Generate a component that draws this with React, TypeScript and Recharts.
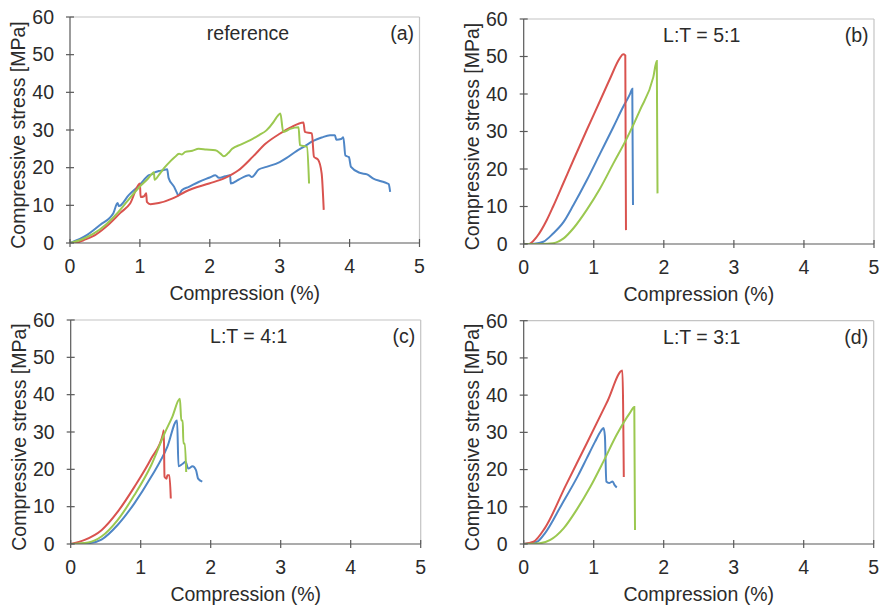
import { LineChart, Line, XAxis, YAxis, ReferenceLine, Label } from "recharts";

// [compression %, stress MPa]
const A_BLUE: [number, number][] = [
  [0, 0], [0.24, 2.1], [0.43, 4.8], [0.62, 7.9], [0.68, 10.6], [0.7, 9.8], [0.84, 12.7], [0.99, 15.3],
  [1.13, 18.0], [1.18, 18.3], [1.22, 18.8], [1.27, 19.1], [1.33, 19.3], [1.39, 19.6], [1.41, 17.3],
  [1.49, 14.9], [1.53, 13.3], [1.55, 12.6], [1.6, 14.0], [1.7, 14.9], [1.84, 16.2], [2.0, 17.4],
  [2.08, 18.0], [2.13, 17.3], [2.22, 17.7], [2.29, 18.0], [2.3, 15.8], [2.41, 16.8], [2.56, 18.0],
  [2.6, 17.5], [2.7, 19.5], [2.81, 20.2], [3.0, 21.5], [3.1, 22.6], [3.24, 24.4], [3.35, 25.6],
  [3.48, 27.1], [3.6, 28.0], [3.72, 28.6], [3.79, 28.6], [3.81, 27.4], [3.88, 27.6], [3.91, 28.1],
  [3.94, 23.2], [3.99, 22.8], [4.02, 20.2], [4.15, 18.6], [4.25, 18.2], [4.34, 17.1], [4.45, 16.4],
  [4.53, 15.9], [4.56, 15.6], [4.58, 13.6],
];
const A_RED: [number, number][] = [
  [0, 0], [0.07, 0], [0.2, 0.8], [0.33, 1.8], [0.52, 4.4], [0.72, 8.0], [0.86, 10.5], [1.0, 15.8],
  [1.01, 12.2], [1.06, 12.4], [1.09, 13.2], [1.1, 10.9], [1.15, 10.3], [1.27, 10.6], [1.46, 11.8],
  [1.53, 12.4], [1.65, 13.6], [1.75, 14.4], [1.99, 15.8], [2.22, 17.3], [2.41, 19.3], [2.62, 23.0],
  [2.8, 26.4], [3.0, 29.0], [3.15, 30.6], [3.34, 32.0], [3.36, 29.5], [3.46, 29.1], [3.49, 22.9],
  [3.55, 22.1], [3.6, 18.5], [3.63, 8.8],
];
const A_GREEN: [number, number][] = [
  [0, 0], [0.15, 0.8], [0.33, 2.4], [0.52, 5.0], [0.69, 8.2], [0.75, 9.5], [0.85, 11.8], [1.0, 15.0],
  [1.1, 16.8], [1.18, 18.5], [1.2, 18.8], [1.21, 16.8], [1.27, 18.0], [1.32, 19.3], [1.4, 21.0],
  [1.5, 22.8], [1.56, 23.7], [1.6, 23.5], [1.65, 24.2], [1.75, 24.5], [1.84, 25.0], [1.95, 24.8],
  [2.08, 24.6], [2.15, 23.8], [2.2, 23.0], [2.26, 23.8], [2.32, 25.0], [2.45, 26.2], [2.58, 27.3],
  [2.7, 28.6], [2.81, 29.9], [2.91, 32.1], [2.95, 33.2], [3.01, 34.4], [3.05, 29.5], [3.15, 30.3],
  [3.27, 30.7], [3.29, 26.0], [3.39, 25.5], [3.42, 15.8],
];

const B_BLUE: [number, number][] = [
  [0, 0], [0.15, 0.1], [0.28, 0.6], [0.42, 2.8], [0.57, 5.9], [0.71, 10.4], [0.9, 17.0], [1.09, 24.1],
  [1.28, 31.2], [1.42, 36.6], [1.52, 40.1], [1.55, 41.4], [1.56, 10.4],
];
const B_RED: [number, number][] = [
  [0, 0], [0.07, 0], [0.19, 2.0], [0.33, 6.4], [0.42, 10.0], [0.57, 16.4], [0.71, 22.4], [0.9, 30.4],
  [1.09, 38.2], [1.23, 44.0], [1.37, 49.5], [1.42, 50.6], [1.45, 50.3], [1.46, 3.7],
];
const B_GREEN: [number, number][] = [
  [0, 0], [0.25, 0], [0.42, 0.2], [0.57, 1.5], [0.71, 4.2], [0.9, 9.1], [1.09, 14.8], [1.28, 21.5],
  [1.47, 28.1], [1.66, 35.7], [1.85, 44.5], [1.9, 48.8], [1.91, 13.5],
];

const C_BLUE: [number, number][] = [
  [0, 0], [0.25, 0.2], [0.44, 1.2], [0.67, 5.1], [0.91, 10.9], [1.15, 18.0], [1.38, 26.0], [1.52, 33.1],
  [1.54, 20.8], [1.6, 21.5], [1.64, 22.0], [1.68, 20.2], [1.74, 20.8], [1.79, 19.8], [1.82, 17.5],
  [1.88, 16.7],
];
const C_RED: [number, number][] = [
  [0, 0], [0.2, 1.1], [0.44, 3.7], [0.67, 8.6], [0.91, 15.3], [1.15, 22.9], [1.32, 29.6], [1.33, 30.5],
  [1.34, 18.0], [1.37, 17.5], [1.38, 18.4], [1.41, 18.4], [1.43, 12.2],
];
const C_GREEN: [number, number][] = [
  [0, 0], [0.25, 0.4], [0.44, 2.0], [0.67, 6.4], [0.91, 13.1], [1.15, 21.1], [1.34, 29.6], [1.45, 34.0],
  [1.56, 38.9], [1.58, 33.1], [1.6, 33.1], [1.61, 26.9], [1.63, 26.9], [1.65, 19.3],
];

const D_BLUE: [number, number][] = [
  [0, 0], [0.19, 0.6], [0.3, 2.8], [0.54, 10.5], [0.78, 18.5], [0.9, 23.0], [1.02, 27.5], [1.1, 30.3],
  [1.14, 31.2], [1.16, 29.0], [1.18, 16.8], [1.22, 16.4], [1.27, 16.8], [1.3, 15.8], [1.33, 15.2],
];
const D_RED: [number, number][] = [
  [0, 0], [0.14, 0.6], [0.3, 4.2], [0.6, 15.7], [0.9, 27.0], [1.2, 38.5], [1.41, 46.6], [1.43, 18.0],
];
const D_GREEN: [number, number][] = [
  [0, 0], [0.23, 0.2], [0.38, 1.1], [0.57, 4.2], [0.76, 9.3], [0.95, 15.3], [1.14, 22.2], [1.33, 29.4],
  [1.52, 35.3], [1.58, 36.8], [1.59, 3.75],
];

const X_TICKS = [0, 1, 2, 3, 4, 5];
const Y_TICKS = [0, 10, 20, 30, 40, 50, 60];
const PANEL_TITLES = ["reference", "L:T = 5:1", "L:T = 4:1", "L:T = 3:1"];
const PANEL_TAGS = ["(a)", "(b)", "(c)", "(d)"];

const BLUE = "#4f86c6";
const RED = "#d9534f";
const GREEN = "#9bc850";
const AXIS = "#595959";
const FRAME = "#c4c4c4";
const TEXT = "#2b2b2b";
const FONT = "'Liberation Sans', Arial, sans-serif";
const FS = 19.5;

const toRows = (pts: [number, number][]) => pts.map(([x, y]) => ({ x, y }));

// pl/pr/pt/pb: plot edges in page pixels; extra: room below the chart for the axis title
type Box = { left: number; top: number; w: number; h: number; pl: number; pr: number; pt: number; pb: number; extra: number };

const PANELS: { box: Box; series: [number, number][][] }[] = [
  { box: { left: 0, top: 0, w: 441, h: 300, pl: 70, pr: 419.5, pt: 17, pb: 243, extra: 12 }, series: [A_BLUE, A_RED, A_GREEN] },
  { box: { left: 441, top: 0, w: 441, h: 300, pl: 523.7, pr: 874, pt: 19, pb: 244, extra: 12 }, series: [B_BLUE, B_RED, B_GREEN] },
  { box: { left: 0, top: 300, w: 441, h: 305, pl: 70.7, pr: 420.7, pt: 320, pb: 544, extra: 0 }, series: [C_BLUE, C_RED, C_GREEN] },
  { box: { left: 441, top: 300, w: 441, h: 305, pl: 523.7, pr: 873.7, pt: 320.7, pb: 544, extra: 0 }, series: [D_BLUE, D_RED, D_GREEN] },
];

// ticks cross the axis line (4px each side)
const YTick = (props: any) => {
  const { x, y, payload } = props;
  return (
    <g>
      <line x1={x + 12} x2={x + 20} y1={y} y2={y} stroke={AXIS} strokeWidth={1.2} />
      <text x={x} y={y} dy="0.35em" textAnchor="end" fontSize={FS} fill={TEXT} fontFamily={FONT}>
        {payload.value}
      </text>
    </g>
  );
};

const XTick = (props: any) => {
  const { x, y, payload } = props;
  return (
    <g>
      <line x1={x} x2={x} y1={y - 34} y2={y - 26} stroke={AXIS} strokeWidth={1.2} />
      <text x={x} y={y} textAnchor="middle" fontSize={FS} fill={TEXT} fontFamily={FONT}>
        {payload.value}
      </text>
    </g>
  );
};

function Panel({ box, series }: { box: Box; series: [number, number][][] }) {
  const plotL = box.pl - box.left;
  const plotR = box.pr - box.left;
  const plotT = box.pt - box.top;
  const plotB = box.pb - box.top;
  const colors = [BLUE, RED, GREEN];
  return (
    <div style={{ position: "absolute", left: box.left, top: box.top }}>
      <LineChart
        width={box.w}
        height={box.h + box.extra}
        margin={{ top: plotT, right: box.w - plotR, bottom: box.extra, left: 0 }}
      >
        <XAxis
          type="number"
          dataKey="x"
          domain={[0, 5]}
          ticks={X_TICKS}
          height={box.h - plotB}
          tickSize={5}
          tickMargin={25}
          tickLine={false}
          tick={<XTick />}
          axisLine={{ stroke: AXIS, strokeWidth: 1.2 }}
          allowDataOverflow
        >
          <Label
            content={() => (
              <text
                x={(plotL + plotR) / 2}
                y={plotB + 50}
                dominantBaseline="central"
                textAnchor="middle"
                fontSize={FS}
                fill={TEXT}
                fontFamily={FONT}
              >
                Compression (%)
              </text>
            )}
          />
        </XAxis>
        <YAxis
          type="number"
          domain={[0, 60]}
          ticks={Y_TICKS}
          width={plotL}
          tickSize={5}
          tickMargin={11}
          tickLine={false}
          tick={<YTick />}
          axisLine={{ stroke: AXIS, strokeWidth: 1.2 }}
          allowDataOverflow
        >
          <Label
            content={() => {
              const cx = plotL - 52;
              const cy = (plotT + plotB) / 2 + 5;
              return (
                <text
                  x={cx}
                  y={cy}
                  transform={`rotate(-90 ${cx} ${cy})`}
                  dominantBaseline="central"
                  textAnchor="middle"
                  fontSize={FS}
                  fill={TEXT}
                  fontFamily={FONT}
                >
                  Compressive stress [MPa]
                </text>
              );
            }}
          />
        </YAxis>
        <ReferenceLine y={60} stroke={FRAME} strokeWidth={1.2} />
        <ReferenceLine x={5} stroke={FRAME} strokeWidth={1.2} />
        {series.map((pts, i) => (
          <Line
            key={i}
            data={toRows(pts)}
            dataKey="y"
            type="monotone"
            stroke={colors[i]}
            strokeWidth={2}
            dot={false}
            activeDot={false}
            isAnimationActive={false}
          />
        ))}
      </LineChart>
    </div>
  );
}

export default function App() {
  return (
    <div
      style={{
        position: "absolute",
        left: 0,
        top: 0,
        width: 882,
        height: 605,
        background: "#fff",
        fontFamily: FONT,
        overflow: "hidden",
      }}
    >
      {PANELS.map((p, i) => (
        <Panel key={i} box={p.box} series={p.series} />
      ))}
      <svg width={882} height={605} style={{ position: "absolute", left: 0, top: 0, pointerEvents: "none" }}>
        {PANELS.map((p, i) => (
          <g key={i} fontFamily={FONT} fontSize={FS} fill={TEXT}>
            <text x={p.box.pl + 178} y={p.box.pt + 23} textAnchor="middle">
              {PANEL_TITLES[i]}
            </text>
            <text x={p.box.pr - 5.5} y={p.box.pt + 23} textAnchor="end">
              {PANEL_TAGS[i]}
            </text>
          </g>
        ))}
      </svg>
    </div>
  );
}
